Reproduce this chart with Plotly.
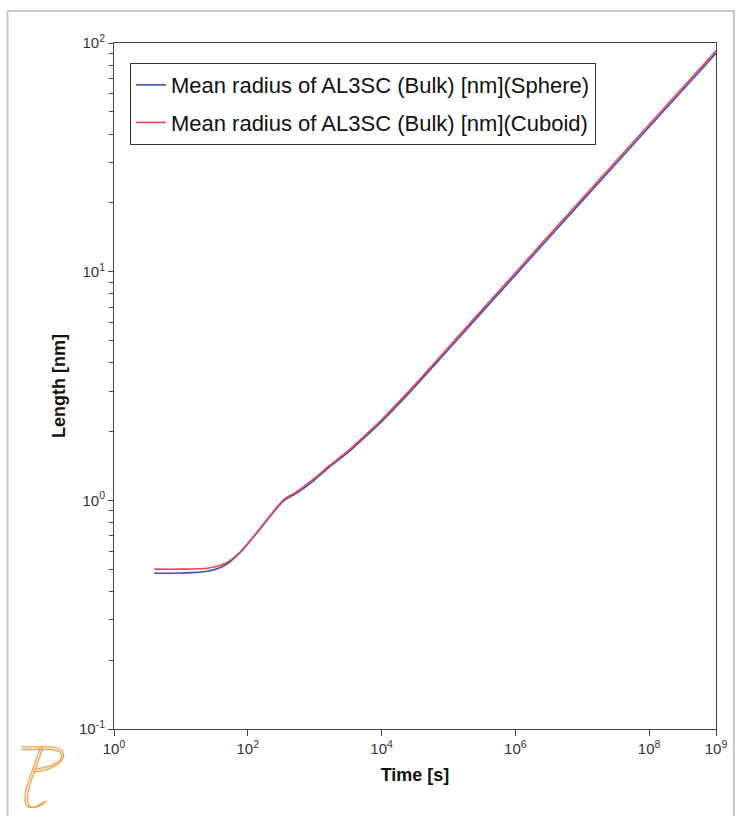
import plotly.graph_objects as go


# ----------------------------
# Data
# ----------------------------

time_s = [4, 10, 25, 45, 75, 100, 148, 210, 350, 525, 1000, 1620,
          3160, 5000, 1e4, 2.5e4, 1e5, 1e6, 1e7, 1e8, 1e9]

radius_sphere = [0.48, 0.481, 0.49, 0.519, 0.586, 0.645, 0.74, 0.843,
                 1.0, 1.07, 1.23, 1.39, 1.62, 1.83, 2.21, 2.92, 4.57,
                 9.66, 20.4, 42.9, 90.2]

radius_cuboid = [0.50, 0.50, 0.505, 0.528, 0.59, 0.648, 0.745, 0.85,
                 1.01, 1.085, 1.25, 1.41, 1.645, 1.86, 2.25, 2.98, 4.67,
                 9.9, 20.9, 44.0, 92.5]

x_tickvals = [1, 1e2, 1e4, 1e6, 1e8, 1e9]
x_ticktext = ["10<sup>0</sup>", "10<sup>2</sup>", "10<sup>4</sup>",
              "10<sup>6</sup>", "10<sup>8</sup>", "10<sup>9</sup>"]

y_tickvals = [0.1, 1, 10, 100]
y_ticktext = ["10<sup>-1</sup>", "10<sup>0</sup>", "10<sup>1</sup>", "10<sup>2</sup>"]

y_minor = [m * d for d in (0.1, 1, 10) for m in range(2, 10)]


# ----------------------------
# Page geometry
# ----------------------------

W, H = 739, 816
L, R, T, B = 114, 20, 43, 87
PW, PH = W - L - R, H - T - B


def paper(px, py):
    # pixel position on the page -> paper coordinates
    return (px - L) / PW, (H - B - py) / PH


def pt(px, py):
    x, y = paper(px, py)
    return f"{x:.4f},{y:.4f}"


fig = go.Figure()

fig.add_trace(
    go.Scatter(
        x=time_s,
        y=radius_sphere,
        mode="lines",
        line=dict(color="#3a4fb8", width=1.6, shape="spline", smoothing=0.8),
        name="Mean radius of AL3SC (Bulk) [nm](Sphere)",
        legendgroup="sphere",
    )
)

fig.add_trace(
    go.Scatter(
        x=time_s,
        y=radius_cuboid,
        mode="lines",
        line=dict(color="#ec4452", width=1.6, shape="spline", smoothing=0.8),
        name="Mean radius of AL3SC (Bulk) [nm](Cuboid)",
        legendgroup="cuboid",
    )
)


# ----------------------------
# Outer frame + logo
# ----------------------------

x0, y0 = paper(7, 832)
x1, y1 = paper(737, 11)

shapes = [
    dict(type="rect", xref="paper", yref="paper", x0=x0, y0=y0, x1=x1, y1=y1,
         line=dict(color="#c8c8c8", width=2), layer="below"),
]

for dx in (0, 2.5):
    stem = (f"M{pt(40 + dx, 747)} C{pt(34 + dx, 768)} {pt(22 + dx, 790)} "
            f"{pt(25 + dx, 803)} C{pt(27 + dx, 810)} {pt(36 + dx, 808)} {pt(44 + dx, 801)}")
    bowl = (f"M{pt(21, 747 + dx)} L{pt(50, 747 + dx)} C{pt(70 - dx, 747 + dx)} "
            f"{pt(70 - dx, 768 - dx)} {pt(33, 772 - dx)}")
    for p in (stem, bowl):
        shapes.append(dict(type="path", xref="paper", yref="paper", path=p,
                           line=dict(color="#f0a050", width=1.3)))


# ----------------------------
# Layout
# ----------------------------

axis_font = dict(family="Liberation Sans, Arial", size=15, color="#333333")
title_font = dict(family="Liberation Sans, Arial", size=18, color="#111111")

fig.update_layout(
    width=W,
    height=H,
    margin=dict(l=L, r=R, t=T, b=B),
    paper_bgcolor="white",
    plot_bgcolor="white",
    shapes=shapes,
    legend=dict(
        x=paper(130, 63)[0],
        y=paper(130, 63)[1],
        xanchor="left",
        yanchor="top",
        bgcolor="white",
        bordercolor="#333333",
        borderwidth=1,
        font=dict(family="Liberation Sans, Arial", size=22, color="#111111"),
        itemwidth=30,
        tracegroupgap=6,
    ),
    xaxis=dict(
        type="log",
        range=[0, 9],
        tickvals=x_tickvals,
        ticktext=x_ticktext,
        ticks="outside",
        ticklen=6,
        tickcolor="#444444",
        showgrid=False,
        zeroline=False,
        showline=True,
        linecolor="#444444",
        linewidth=1,
        mirror=True,
        tickfont=axis_font,
        title=dict(text="<b>Time [s]</b>", font=title_font, standoff=12),
    ),
    yaxis=dict(
        type="log",
        range=[-1, 2],
        tickvals=y_tickvals,
        ticktext=y_ticktext,
        ticks="outside",
        ticklen=5,
        tickcolor="#444444",
        minor=dict(tickvals=y_minor, ticks="outside", ticklen=4, tickcolor="#444444"),
        showgrid=False,
        zeroline=False,
        showline=True,
        linecolor="#444444",
        linewidth=1,
        mirror=True,
        tickfont=axis_font,
        title=dict(text="<b>Length [nm]</b>", font=title_font, standoff=8),
    ),
)

fig.write_html(
    "out.html",
    config={"displayModeBar": False},
    post_script="document.body.style.margin='0';document.body.style.overflow='hidden';",
)
